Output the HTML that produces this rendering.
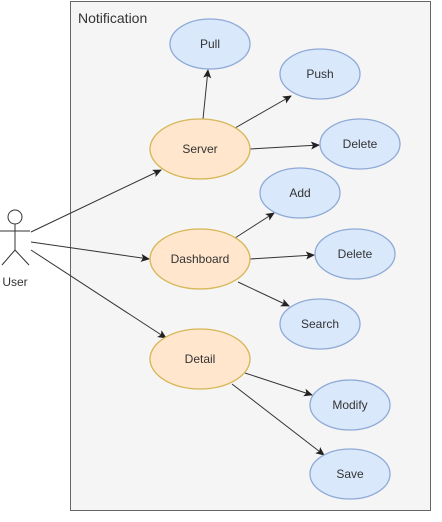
<!DOCTYPE html>
<html><head><style>body{margin:0;background:#fff}svg{display:block}text{font-family:"Liberation Sans",sans-serif;fill:#333}</style></head><body>
<svg width="442" height="522" viewBox="0 0 442 522">
<defs><marker id="a" markerWidth="10" markerHeight="10" refX="8" refY="5" orient="auto" markerUnits="userSpaceOnUse"><path d="M0,1 L9,5 L0,9 L2,5 z" fill="#222"/></marker></defs>
<rect x="70.5" y="1.5" width="360" height="509" fill="#f5f5f5" stroke="#666" stroke-width="1"/>
<text x="78" y="23" font-size="14" style="fill:#333">Notification</text>
<g stroke="#333" stroke-width="1" fill="none" marker-end="url(#a)">
<line x1="203" y1="119" x2="208" y2="70"/>
<line x1="235" y1="128" x2="291" y2="96"/>
<line x1="250" y1="149" x2="319" y2="145"/>
<line x1="235" y1="238" x2="274" y2="213"/>
<line x1="250" y1="259" x2="314" y2="255"/>
<line x1="238" y1="282" x2="289" y2="306"/>
<line x1="245" y1="373" x2="312" y2="395"/>
<line x1="232" y1="384" x2="324" y2="455"/>
<line x1="31" y1="232" x2="161" y2="170"/>
<line x1="31" y1="242" x2="149" y2="259"/>
<line x1="31" y1="250" x2="166" y2="338"/>
</g>
<g stroke="#d6b656" stroke-width="1.3" fill="#ffe6cc">
<ellipse cx="200" cy="149" rx="50" ry="30"/>
<ellipse cx="200" cy="259" rx="50" ry="30"/>
<ellipse cx="200" cy="359" rx="50" ry="30"/>
</g>
<g stroke="#8eaad6" stroke-width="1.3" fill="#dae8fc">
<ellipse cx="210" cy="44" rx="40" ry="25"/>
<ellipse cx="320" cy="74" rx="40" ry="25"/>
<ellipse cx="360" cy="144" rx="40" ry="25"/>
<ellipse cx="300" cy="193" rx="40" ry="25"/>
<ellipse cx="355" cy="254" rx="40" ry="25"/>
<ellipse cx="320" cy="324" rx="40" ry="25"/>
<ellipse cx="350" cy="405" rx="40" ry="25"/>
<ellipse cx="350" cy="474" rx="40" ry="25"/>
</g>
<g font-size="12" text-anchor="middle">
<text x="200" y="153">Server</text>
<text x="200" y="263">Dashboard</text>
<text x="200" y="363">Detail</text>
<text x="210" y="48">Pull</text>
<text x="320" y="78">Push</text>
<text x="360" y="148">Delete</text>
<text x="300" y="197">Add</text>
<text x="355" y="258">Delete</text>
<text x="320" y="328">Search</text>
<text x="350" y="409">Modify</text>
<text x="350" y="478">Save</text>
<text x="15" y="286">User</text>
</g>
<g stroke="#333" stroke-width="1" fill="#fff">
<circle cx="15" cy="217" r="7"/>
<line x1="15" y1="224" x2="15" y2="250"/>
<line x1="0" y1="231" x2="30" y2="231"/>
<line x1="15" y1="250" x2="2" y2="265"/>
<line x1="15" y1="250" x2="29" y2="265"/>
</g>
</svg>
</body></html>
